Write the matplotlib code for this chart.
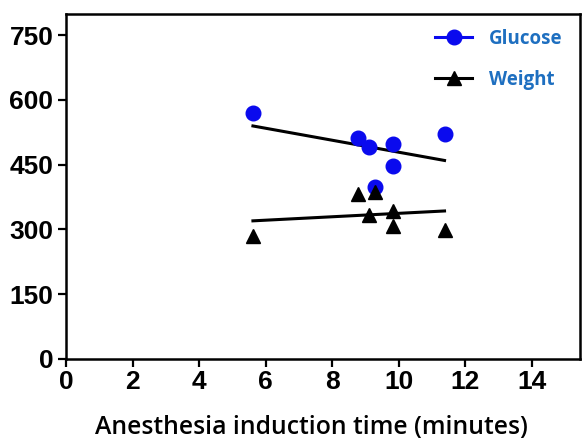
import matplotlib.pyplot as plt
import numpy as np
from matplotlib.lines import Line2D

# induction time (minutes) for each animal
induction_time = [5.62, 8.78, 9.11, 9.30, 9.83, 9.83, 11.38]
glucose = [570, 511, 490, 399, 499, 448, 521]
weight = [285, 382, 333, 387, 343, 308, 299]

x_ticks = [0, 2, 4, 6, 8, 10, 12, 14]
y_ticks = [0, 150, 300, 450, 600, 750]

plt.rcParams['font.family'] = ['Liberation Sans', 'DejaVu Sans']
plt.rcParams['font.weight'] = 'bold'

fig = plt.figure(figsize=(5.82, 4.42), dpi=100)
ax = fig.add_axes([0.1134, 0.1878, 0.883, 0.7805])

x = np.array(induction_time)
x_fit = np.array([x.min(), x.max()])

ax.plot(x, glucose, 'o', color='#0a0aee', markersize=10.5, linestyle='none', zorder=3)
ax.plot(x, weight, '^', color='black', markersize=10.5, linestyle='none', zorder=3)

for values in (glucose, weight):
    k, b = np.polyfit(x, values, 1)
    ax.plot(x_fit, k * x_fit + b, color='black', linewidth=2.2, zorder=2)

ax.set_xlim(0, 15.45)
ax.set_ylim(0, 799)
ax.set_xticks(x_ticks)
ax.set_yticks(y_ticks)

for side in ['left', 'bottom', 'top', 'right']:
    ax.spines[side].set_linewidth(1.8)
ax.tick_params(direction='out', length=6, width=1.6, labelsize=19)
ax.tick_params(axis='y', pad=3)
ax.tick_params(axis='x', pad=2)

ax.set_xlabel("Anesthesia induction time (minutes)", fontfamily='Open Sans',
              fontsize=17.8, fontweight='semibold')
ax.xaxis.set_label_coords(0.478, -0.163)

handles = [
    Line2D([], [], color='#0a0aee', marker='o', markersize=10.5, linewidth=2.2),
    Line2D([], [], color='black', marker='^', markersize=9.5, linewidth=2.2),
]
leg = ax.legend(handles, ['Glucose', 'Weight'], loc='upper left',
                bbox_to_anchor=(0.718, 0.958), frameon=False, borderpad=0,
                borderaxespad=0, handlelength=2.0, handletextpad=0.9,
                labelspacing=1.12,
                prop={'family': 'Open Sans', 'weight': 'bold', 'size': 13.5})
for t in leg.get_texts():
    t.set_color('#1e6fc0')

fig.savefig('out.png', dpi=100)
